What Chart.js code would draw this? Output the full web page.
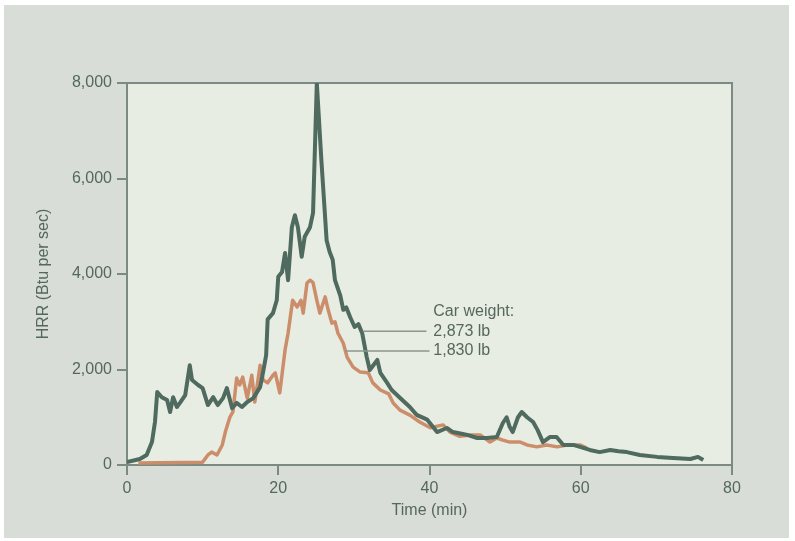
<!DOCTYPE html>
<html>
<head>
<meta charset="utf-8">
<script src="https://cdn.jsdelivr.net/npm/chart.js@4.4.0/dist/chart.umd.min.js"></script>
<style>
  html, body { margin: 0; padding: 0; background: #fff; }
  #wrap { position: absolute; left: 4px; top: 5px; width: 785px; height: 533px; background: #d8ddd8; }
</style>
</head>
<body>
<div id="wrap"><canvas id="hrr-chart" width="785" height="533"></canvas></div>
<script>
// time (min) and heat release rate (Btu per sec)
var timeHeavy = [0, 1.7, 2.6, 3.3, 3.7, 4.0, 4.6, 5.3, 5.7, 6.1, 6.6, 7.0, 7.7, 8.3, 8.6, 9.4, 10.0, 10.7, 11.4, 12.0,
  12.7, 13.2, 13.9, 14.5, 15.2, 15.9, 16.7, 17.6, 18.0, 18.4, 18.6, 19.3, 19.8, 20.0, 20.5, 20.9, 21.3, 21.8, 22.2, 22.6,
  23.1, 23.5, 24.2, 24.6, 25.1, 25.7, 26.4, 26.8, 27.2, 27.5, 28.2, 28.6, 29.0, 29.5, 30.1, 30.6, 31.1, 31.7, 32.1, 33.1,
  33.5, 34.4, 35.0, 35.7, 36.4, 37.4, 38.3, 39.7, 41.0, 42.3, 43.1, 44.4, 45.0, 46.3, 47.6, 48.9, 49.7, 50.2, 50.6, 51.0,
  51.7, 52.2, 52.9, 53.7, 54.3, 55.0, 55.9, 56.8, 57.7, 59.0, 59.9, 61.2, 62.5, 63.9, 65.0, 66.1, 67.8, 70.1, 72.2, 74.5,
  75.5, 76.2];
var hrrHeavy = [60, 125, 210, 480, 900, 1530, 1420, 1360, 1110, 1420, 1215, 1300, 1465, 2090, 1780, 1675, 1610, 1255, 1420, 1255,
  1400, 1610, 1190, 1300, 1215, 1320, 1400, 1630, 1950, 2300, 3050, 3180, 3450, 3940, 4040, 4440, 3870, 4980, 5230, 4980,
  4360, 4780, 4980, 5280, 8000, 6390, 4700, 4460, 4300, 3870, 3550, 3250, 3300, 3100, 2890, 2950, 2760, 2260, 1990, 2200,
  1930, 1720, 1570, 1465, 1360, 1215, 1050, 950, 690, 775, 690, 650, 630, 565, 565, 585, 880, 1000, 800, 690,
  1000, 1110, 1000, 900, 730, 480, 585, 585, 420, 420, 380, 315, 270, 315, 290, 270, 210, 170, 145, 125,
  170, 105];

var timeLight = [1.5, 10.0, 10.7, 11.2, 11.9, 12.6, 13.0, 13.6, 14.0, 14.5, 14.9, 15.3, 15.9, 16.5, 16.9, 17.6, 18.0, 18.6, 19.3, 19.6,
  20.2, 20.9, 21.3, 21.9, 22.5, 23.0, 23.3, 23.8, 24.2, 24.6, 25.1, 25.5, 26.2, 26.6, 27.1, 27.5, 27.9, 28.6, 29.1, 29.9,
  30.8, 31.9, 32.5, 33.5, 34.6, 35.2, 36.1, 37.4, 38.7, 40.1, 41.8, 42.7, 44.0, 45.5, 46.7, 48.0, 48.9, 49.7, 50.6, 52.0,
  52.9, 54.2, 55.5, 56.9, 58.2, 59.9, 60.8];
var hrrLight = [40, 60, 210, 270, 210, 420, 690, 1000, 1110, 1820, 1675, 1840, 1400, 1880, 1320, 2090, 1780, 1720, 1880, 1930,
  1510, 2410, 2760, 3450, 3310, 3450, 3180, 3810, 3870, 3820, 3450, 3180, 3520, 3250, 2970, 3000, 2760, 2550, 2260, 2050,
  1950, 1930, 1720, 1570, 1490, 1300, 1150, 1045, 900, 780, 840, 690, 600, 630, 630, 480, 565, 520, 480, 480,
  420, 380, 420, 380, 420, 420, 355];

var xTicks = [0, 20, 40, 60, 80];
var yTicks = [0, 2000, 4000, 6000, 8000];
var seriesNames = ["2,873 lb", "1,830 lb"];

var axisColor = "#7b8a82";
var textColor = "#56675d";
var fontFamily = "'Liberation Sans', Arial, sans-serif";

function toPoints(xs, ys) {
  return xs.map(function (t, i) { return { x: t, y: ys[i] }; });
}

// plot background and frame
var plotFrame = {
  id: "plotFrame",
  beforeDraw: function (chart) {
    var a = chart.chartArea, c = chart.ctx;
    c.save();
    c.fillStyle = "#e8ede4";
    c.fillRect(a.left, a.top, a.right - a.left, a.bottom - a.top);
    c.restore();
  },
  beforeDatasetsDraw: function (chart) {
    var a = chart.chartArea, c = chart.ctx;
    c.save();
    c.strokeStyle = axisColor;
    c.lineWidth = 2;
    c.beginPath();
    c.moveTo(a.left, a.top);
    c.lineTo(a.right, a.top);
    c.lineTo(a.right, a.bottom);
    c.stroke();
    c.restore();
  }
};

// "Car weight:" labels with leader lines
var weightLabels = {
  id: "weightLabels",
  afterDatasetsDraw: function (chart) {
    var xs = chart.scales.x, ys = chart.scales.y, c = chart.ctx;
    c.save();
    c.strokeStyle = "#8a968f";
    c.lineWidth = 1.5;
    c.beginPath();
    c.moveTo(xs.getPixelForValue(31.3), ys.getPixelForValue(2800));
    c.lineTo(xs.getPixelForValue(39.6), ys.getPixelForValue(2800));
    c.moveTo(xs.getPixelForValue(28.9), ys.getPixelForValue(2390));
    c.lineTo(xs.getPixelForValue(40.0), ys.getPixelForValue(2390));
    c.stroke();
    c.fillStyle = textColor;
    c.font = "16px " + fontFamily;
    c.textBaseline = "middle";
    c.textAlign = "left";
    var lx = xs.getPixelForValue(40.5);
    c.fillText("Car weight:", lx, ys.getPixelForValue(3220));
    c.fillText(seriesNames[0], lx, ys.getPixelForValue(2800));
    c.fillText(seriesNames[1], lx, ys.getPixelForValue(2390));
    c.restore();
  }
};

new Chart(document.getElementById("hrr-chart").getContext("2d"), {
  type: "line",
  data: {
    datasets: [{
      label: seriesNames[0],
      data: toPoints(timeHeavy, hrrHeavy),
      borderColor: "#4f6a5e",
      borderWidth: 4,
      pointRadius: 0,
      tension: 0,
      borderJoinStyle: "round"
    }, {
      label: seriesNames[1],
      data: toPoints(timeLight, hrrLight),
      borderColor: "#cc8e6a",
      borderWidth: 3.5,
      pointRadius: 0,
      tension: 0,
      borderJoinStyle: "round"
    }]
  },
  options: {
    responsive: false,
    animation: false,
    layout: { padding: { top: 78, right: 57, left: 0, bottom: 0 } },
    plugins: {
      legend: { display: false },
      tooltip: { enabled: false }
    },
    scales: {
      x: {
        type: "linear",
        min: 0,
        max: 80,
        afterFit: function (s) { s.height = 73; },
        afterBuildTicks: function (s) { s.ticks = xTicks.map(function (v) { return { value: v }; }); },
        border: { display: true, color: axisColor, width: 2 },
        grid: { drawOnChartArea: false, drawTicks: true, tickLength: 10, color: axisColor, lineWidth: 2 },
        ticks: {
          padding: 4,
          maxRotation: 0,
          color: textColor,
          font: { size: 16, family: fontFamily }
        },
        title: {
          display: true,
          text: "Time (min)",
          color: textColor,
          font: { size: 16, family: fontFamily },
          padding: { top: 0, bottom: 18 }
        }
      },
      y: {
        min: 0,
        max: 8000,
        afterFit: function (s) { s.width = 123; },
        afterBuildTicks: function (s) { s.ticks = yTicks.map(function (v) { return { value: v }; }); },
        border: { display: true, color: axisColor, width: 2 },
        grid: { drawOnChartArea: false, drawTicks: true, tickLength: 10, color: axisColor, lineWidth: 2 },
        ticks: {
          padding: 5,
          color: textColor,
          font: { size: 16, family: fontFamily },
          callback: function (v) { return v.toLocaleString("en-US"); }
        },
        title: {
          display: true,
          text: "HRR (Btu per sec)",
          color: textColor,
          font: { size: 16, family: fontFamily },
          padding: { top: 30, bottom: 0 }
        }
      }
    }
  },
  plugins: [plotFrame, weightLabels]
});
</script>
</body>
</html>
